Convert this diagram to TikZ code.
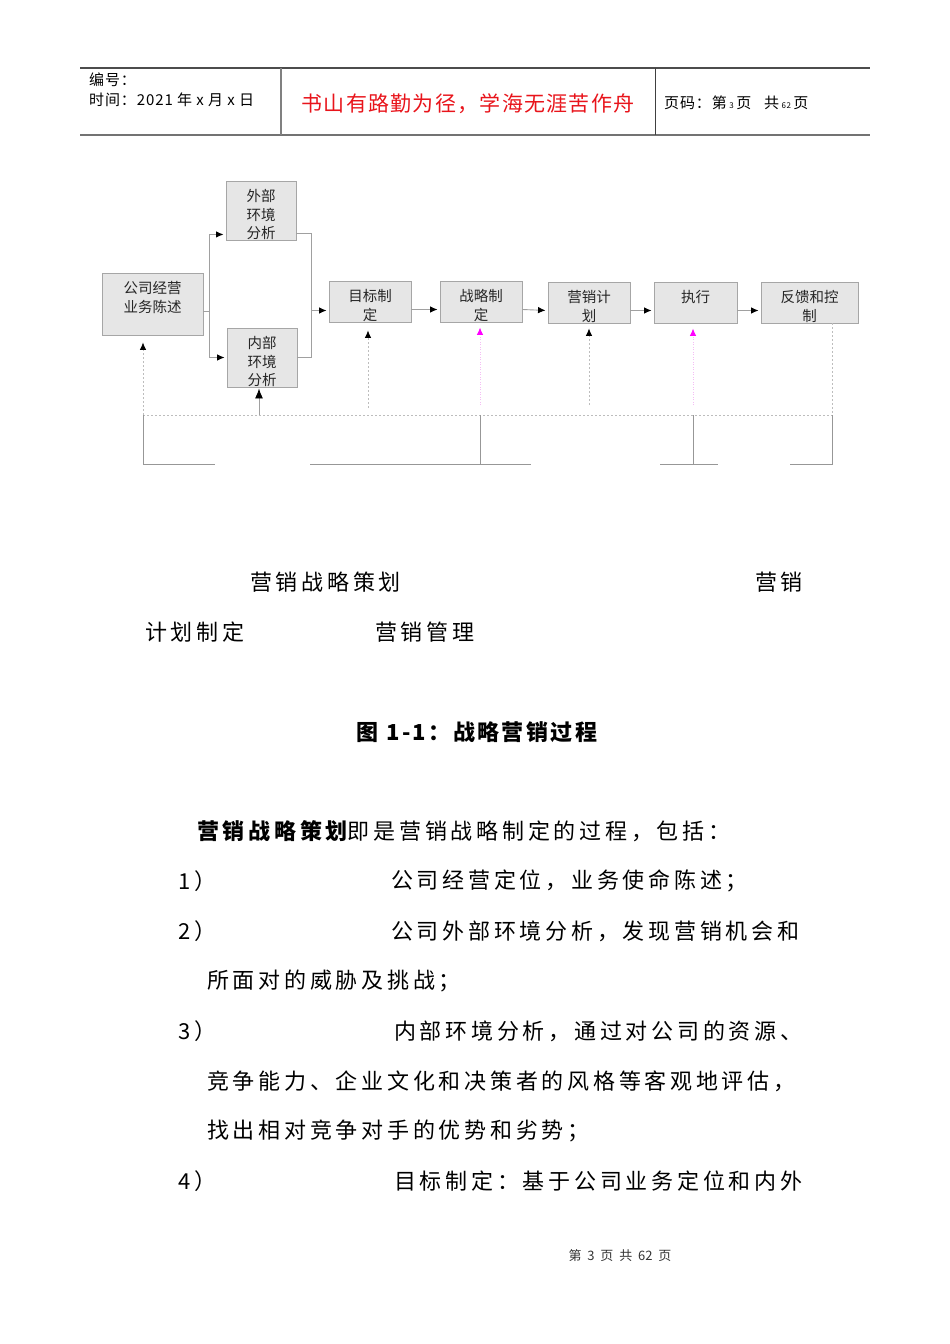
\documentclass[tikz,border=0pt]{standalone}
\usepackage{fontspec}
\setmainfont{Noto Sans CJK SC}
\usetikzlibrary{calc,arrows.meta}

\definecolor{boxfill}{HTML}{E6E6E6}
\definecolor{boxline}{HTML}{A6A6A6}
\definecolor{linegray}{HTML}{A0A0A0}
\definecolor{dashgray}{HTML}{BDBDBD}
\definecolor{pinkdot}{HTML}{F4BDF4}
\definecolor{tipmagenta}{HTML}{FF00FF}
\definecolor{headred}{HTML}{E8141B}

\tikzset{
  box/.style={draw=boxline, fill=boxfill, line width=0.9pt, inner sep=0pt},
  boxtext/.style={anchor=north, inner sep=0pt, align=center, text=black!85,
    font=\fontsize{14.5}{18.5}\selectfont},
  plain/.style={draw=linegray, line width=0.9pt},
  flow/.style={plain, -{Latex[black,length=7.5pt,width=6.5pt]}, shorten >=2pt},
  fbline/.style={draw=dashgray, line width=0.8pt, dash pattern=on 2pt off 2pt},
  fbup/.style={fbline, -{Latex[black,length=7.5pt,width=6.5pt]}},
  pinkup/.style={draw=pinkdot, line width=1pt, dash pattern=on 1pt off 1.5pt,
    -{Latex[tipmagenta,length=7.5pt,width=6.5pt]}},
  base/.style={draw=dashgray!80!black, line width=0.8pt},
  body/.style={anchor=west, inner sep=0pt,
    font=\fontsize{22}{26}\selectfont\addfontfeature{LetterSpace=17}},
  head/.style={anchor=west, inner sep=0pt,
    font=\fontsize{15}{18}\selectfont\addfontfeature{LetterSpace=6}}
}

\begin{document}
\begin{tikzpicture}[x=1pt,y=-1pt]
\useasboundingbox (0,0) rectangle (950,1344);

% header table
\draw[black!70, line width=1.2pt] (80,68) -- (870,68);
\draw[black!55, line width=2pt] (80,135) -- (870,135);
\draw[black!50, line width=1.2pt] (281,68) -- (281,135);
\draw[black!75, line width=1pt] (655,68) -- (655,135);
\node[head] (hbh) at (89,80) {编号：};
\node[head] (hsj) at (89,100) {时间：2021 年 x 月 x 日};
\node[inner sep=0pt, text=headred, font=\fontsize{21}{24}\selectfont\addfontfeature{LetterSpace=6}]
  (motto) at (468,104) {书山有路勤为径，学海无涯苦作舟};
\node[head] (hym) at (664,103) {页码：第\,{\footnotesize 3}\,页\ \ \ 共\,{\footnotesize 62}\,页};

% boxes
\foreach \n/\cx/\cy/\w/\h/\t in {
  gongsi/152.5/304/101/62/{公司经营\\业务陈述},
  waibu/261/210.5/70/59/{外部\\环境\\分析},
  neibu/262/357.5/70/59/{内部\\环境\\分析},
  mubiao/370/301.5/82/41/{目标制\\定},
  zhanlue/481/301.5/82/41/{战略制\\定},
  yingxiao/589/302.5/82/41/{营销计\\划},
  zhixing/695.5/302.5/83/41/{执行},
  fankui/809.5/302.5/97/41/{反馈和控\\制}}
{
  \node[box, minimum width=\w, minimum height=\h] (\n) at (\cx,\cy) {};
  \node[boxtext] (\n-t) at ($(\n.north)+(0,9)$) {\t};
}

% main flow
\coordinate (split) at ($(gongsi.east)+(6,7)$);
\draw[plain] (split -| gongsi.east) -- (split);
\draw[flow] (split) |- ($(waibu.south west)+(0,-6)$);
\draw[flow] (split) |- (neibu.west);
\draw[plain] ($(waibu.south east)+(0,-7)$) -| ($(neibu.east)+(14,0)$) -- (neibu.east);
\coordinate (join) at ($(neibu.east)+(14,-47)$);
\draw[flow] (join) -- (join -| mubiao.west);
\foreach \a/\b in {mubiao/zhanlue, zhanlue/yingxiao, yingxiao/zhixing, zhixing/fankui}
  \draw[flow] ($(\a.east)+(0,8)$) -- ($(\b.west)+(0,8)$);

% feedback
\coordinate (fbL) at (143,415);
\coordinate (fbR) at (832,415);
\draw[fbline] (fbL) -- (fbR);
\draw[fbline] (fbR |- fankui.south) -- (fbR);
\draw[fbup, shorten >=7pt] (fbL) -- (fbL |- gongsi.south);
\coordinate (nb) at (259,415);
\draw[plain, -{Latex[black,length=10pt,width=8pt]}, shorten >=1pt] (nb) -- (nb |- neibu.south);
\coordinate (mb) at (368,408);
\draw[fbup, shorten >=8pt] (mb) -- (mb |- mubiao.south);
\coordinate (zl) at (480,405);
\draw[pinkup, shorten >=5pt] (zl) -- (zl |- zhanlue.south);
\coordinate (yx) at (589,405);
\draw[fbup, shorten >=5pt] (yx) -- (yx |- yingxiao.south);
\coordinate (zx) at (693,405);
\draw[pinkup, shorten >=5pt] (zx) -- (zx |- zhixing.south);

% bottom brackets
\draw[base] (fbL) -- (143,464) -- (215,464);
\draw[base] (310,464) -- (531,464);
\draw[base] (480,415) -- (480,464);
\draw[base] (660,464) -- (718,464);
\draw[base] (693,415) -- (693,464);
\draw[base] (790,464) -- (832,464) -- (fbR);

% texts below the chart
\node[body] (t1) at (250,582) {营销战略策划};
\node[body] (t2) at (755,582) {营销};
\node[body] (t3) at (145,632) {计划制定};
\node[body] (t4) at (375,632) {营销管理};
\node[inner sep=0pt, font=\fontsize{22}{26}\selectfont\bfseries\addfontfeature{LetterSpace=11}]
  (cap) at (477,732) {图 1-1：战略营销过程};

\node[body] (p0) at (197,831) {{\bfseries 营销战略策划}即是营销战略制定的过程，包括：};
\node[body] (n1) at (178,881) {1）};
\node[body] (p1) at (391,881) {公司经营定位，业务使命陈述；};
\node[body] (n2) at (178,931) {2）};
\node[body] (p2) at (391,931) {公司外部环境分析，发现营销机会和};
\node[body] (p2b) at (207,981) {所面对的威胁及挑战；};
\node[body] (n3) at (178,1031) {3）};
\node[body] (p3) at (394,1031) {内部环境分析，通过对公司的资源、};
\node[body] (p3b) at (207,1081) {竞争能力、企业文化和决策者的风格等客观地评估，};
\node[body] (p3c) at (207,1131) {找出相对竞争对手的优势和劣势；};
\node[body] (n4) at (178,1181) {4）};
\node[body] (p4) at (394,1181) {目标制定：基于公司业务定位和内外};

% footer
\node[inner sep=0pt, text=black!80, font=\fontsize{13}{16}\selectfont] (foot) at (620,1256)
  {第\ \ 3\ \ 页\ \ 共\ \ 62\ \ 页};
\end{tikzpicture}
\end{document}
